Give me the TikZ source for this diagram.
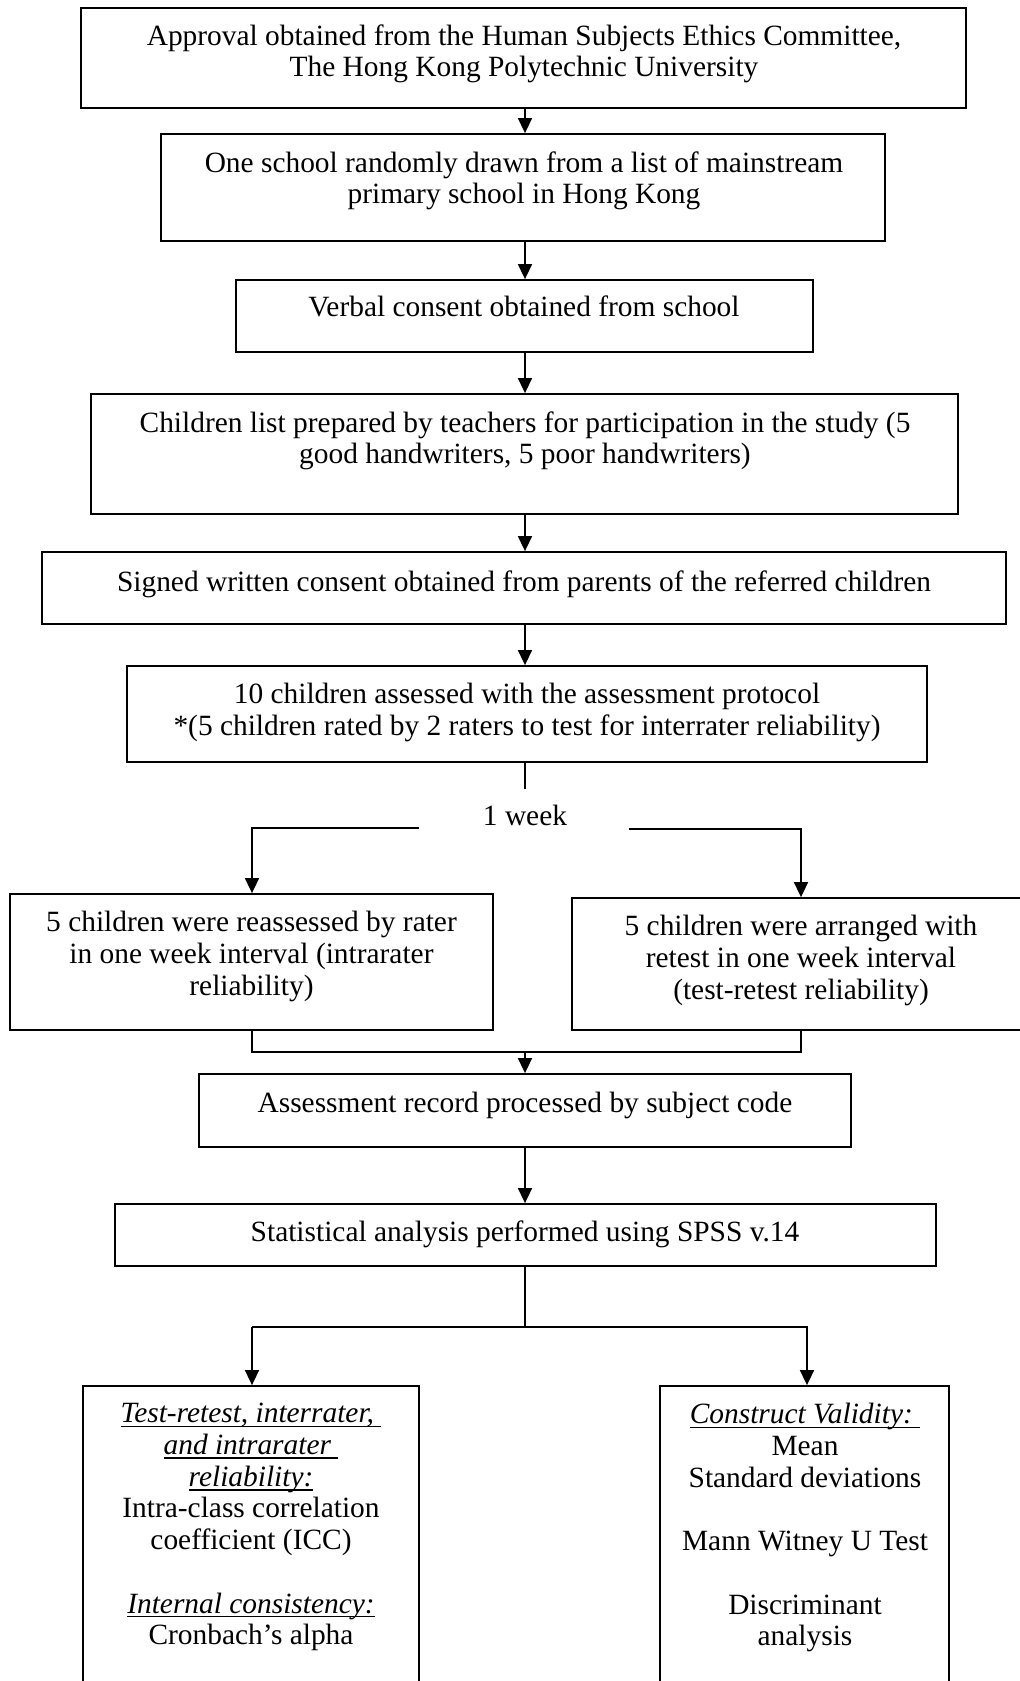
\documentclass[tikz,border=0pt]{standalone}
\usepackage{fontspec}
\setmainfont{Liberation Serif}
\usetikzlibrary{arrows.meta,fit}

% underline that keeps trailing spaces
\newsavebox\ulinebox
\newcommand\ulin[1]{\sbox\ulinebox{#1}\rlap{\rule[-2.2pt]{\wd\ulinebox}{0.75pt}}\usebox\ulinebox}

\begin{document}
\begin{tikzpicture}[x=0.5pt,y=-0.5pt,
  frame/.style={draw, line width=0.9pt, inner sep=0pt},
  txt/.style={anchor=north, align=center, inner sep=0pt,
    font=\fontsize{14.7}{15.85}\selectfont, execute at begin node=\strut},
  link/.style={line width=0.8pt},
  arr/.style={link, -{Triangle[length=7.5pt,width=7pt]}}]

\useasboundingbox (0,0) rectangle (1020,1681);
\clip (0,0) rectangle (1020,1681);

% boxes
\node[frame, fit={(81,8) (966,108)}]     (b1) {};
\node[frame, fit={(161,134) (885,241)}]  (b2) {};
\node[frame, fit={(236,280) (813,352)}]  (b3) {};
\node[frame, fit={(91,394) (958,514)}]   (b4) {};
\node[frame, fit={(42,552) (1006,624)}]  (b5) {};
\node[frame, fit={(127,666) (927,762)}]  (b6) {};
\node[frame, fit={(10,894) (493,1030)}]  (b7) {};
\node[frame, fit={(572,898) (1030,1030)}] (b8) {};
\node[frame, fit={(199,1074) (851,1147)}] (b9) {};
\node[frame, fit={(115,1204) (936,1266)}] (b10) {};
\node[frame, fit={(83,1386) (419,1700)}]  (b11) {};
\node[frame, fit={(660,1386) (949,1700)}] (b12) {};

% texts (anchored at the top of the first line)
\node[txt] (t1) at (524,24) {Approval obtained from the Human Subjects Ethics Committee,\\ The Hong Kong Polytechnic University};
\node[txt] (t2) at (524,151) {One school randomly drawn from a list of mainstream\\ primary school in Hong Kong};
\node[txt] (t3) at (524,294) {Verbal consent obtained from school};
\node[txt] (t4) at (525,411) {Children list prepared by teachers for participation in the study (5\\ good handwriters, 5 poor handwriters)};
\node[txt] (t5) at (524,569) {Signed written consent obtained from parents of the referred children};
\node[txt] (t6) at (527,683) {10 children assessed with the assessment protocol\\ *(5 children rated by 2 raters to test for interrater reliability)};
\node[txt] (week) at (525,803) {1 week};
\node[txt] (t7) at (251.5,911) {5 children were reassessed by rater\\ in one week interval (intrarater\\ reliability)};
\node[txt] (t8) at (801,915) {5 children were arranged with\\ retest in one week interval\\ (test-retest reliability)};
\node[txt] (t9) at (525,1090) {Assessment record processed by subject code};
\node[txt] (t10) at (525,1219) {Statistical analysis performed using SPSS v.14};
\node[txt] (t11) at (251,1403) {\itshape\ulin{Test-retest, interrater,\ }\\
  \itshape\ulin{and intrarater\ }\\
  \itshape\ulin{reliability:}\\
  Intra-class correlation\\
  coefficient (ICC)\\ \strut\\
  \itshape\ulin{Internal consistency:}\\
  Cronbach’s alpha};
\node[txt] (t12) at (805,1403) {\itshape\ulin{Construct Validity:\ }\\
  Mean\\
  Standard deviations\\ \strut\\
  Mann Witney U Test\\ \strut\\
  Discriminant\\
  analysis};

% junction points
\coordinate (spine) at (525,0);
\coordinate (stemend) at (525,789);
\coordinate (wl) at (419,828);
\coordinate (wlc) at (252,828);
\coordinate (wr) at (629,829);
\coordinate (wrc) at (801,829);
\coordinate (mergel) at (252,1052);
\coordinate (merger) at (801,1052);
\coordinate (mergec) at (525,1052);
\coordinate (splitc) at (525,1327);
\coordinate (splitl) at (252,1327);
\coordinate (splitr) at (807,1327);

% main chain
\draw[arr] (b1.south -| spine) -- (b2.north -| spine);
\draw[arr] (b2.south -| spine) -- (b3.north -| spine);
\draw[arr] (b3.south -| spine) -- (b4.north -| spine);
\draw[arr] (b4.south -| spine) -- (b5.north -| spine);
\draw[arr] (b5.south -| spine) -- (b6.north -| spine);
\draw[link] (b6.south -| spine) -- (stemend);

% one-week branches
\draw[arr] (wl) -- (wlc) -- (b7.north -| wlc);
\draw[arr] (wr) -- (wrc) -- (b8.north -| wrc);

% merge into record processing
\draw[link] (b7.south -| mergel) -- (mergel) -- (merger) -- (b8.south -| merger);
\draw[arr] (mergec) -- (b9.north -| mergec);
\draw[arr] (b9.south -| spine) -- (b10.north -| spine);

% split into analyses
\draw[link] (b10.south -| splitc) -- (splitc);
\draw[arr] (splitl) -- (splitr) -- (b12.north -| splitr);
\draw[arr] (splitl) -- (b11.north -| splitl);

\end{tikzpicture}
\end{document}
